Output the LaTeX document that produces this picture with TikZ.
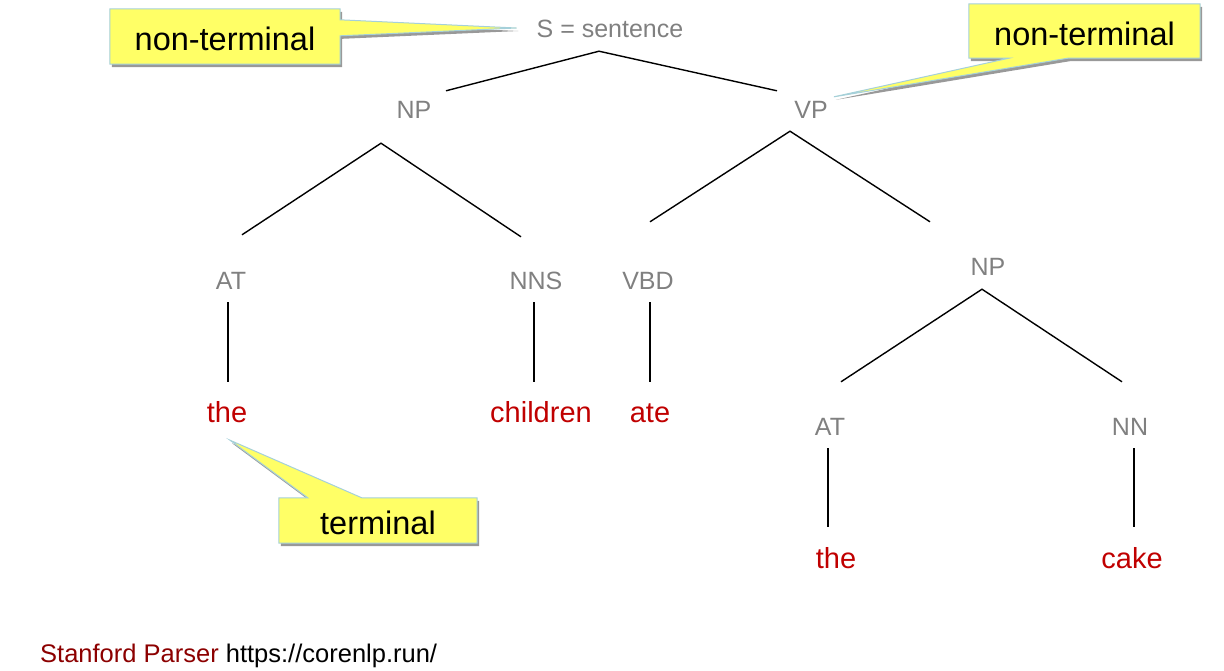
\documentclass[tikz,border=0pt]{standalone}
\usepackage{fontspec}
\setmainfont{Liberation Sans}
\usetikzlibrary{calc,shadows}

\definecolor{labelgray}{RGB}{128,128,128}
\definecolor{wordred}{RGB}{192,0,0}
\definecolor{sourcered}{RGB}{140,0,0}
\definecolor{noteyellow}{RGB}{255,255,102}
\definecolor{noterim}{RGB}{165,208,218}

\pgfdeclarelayer{background}
\pgfsetlayers{background,main}

\begin{document}
\begin{tikzpicture}[
  x=1pt, y=-1pt,
  cat/.style={anchor=base,inner sep=0pt,text height=18pt,text depth=0pt,
    text=labelgray,font=\fontsize{25}{30}\selectfont},
  word/.style={anchor=base,inner sep=0pt,text height=21pt,text depth=0pt,
    text=wordred,font=\fontsize{29}{34}\selectfont},
  note/.style={inner sep=0pt,text height=28pt,text depth=0pt,
    font=\fontsize{32.5}{38}\selectfont},
  notebox/.style={fill=noteyellow,draw=noterim,line width=1pt,
    drop shadow={shadow xshift=2pt,shadow yshift=-3pt,fill=black!40,opacity=1}},
  branch/.style={line width=1.4pt}
]
  \useasboundingbox (0,0) rectangle (1224,670);

  % tree labels
  \node[cat] (S) at (610,37) {S = sentence};
  \node[cat] (NP1) at (414,118) {NP};
  \node[cat] (VP) at (811,118) {VP};
  \node[cat] (AT1) at (231,289) {AT};
  \node[cat] (NNS) at (536,289) {NNS};
  \node[cat] (VBD) at (648,289) {VBD};
  \node[cat] (NP2) at (988,275) {NP};
  \node[cat] (AT2) at (830,435) {AT};
  \node[cat] (NN) at (1130,435) {NN};

  % words
  \node[word] (the1) at (227,422) {the};
  \node[word] (children) at (541,422) {children};
  \node[word] (ate) at (650,422) {ate};
  \node[word] (the2) at (836,568) {the};
  \node[word] (cake) at (1132,568) {cake};

  % branches
  \draw[branch] ($(NP1.north)+(32,-9)$) -- ($(S.south)+(-11,14)$) -- ($(VP.north)+(-34,-9)$);
  \draw[branch] ($(AT1.north)+(11,-36)$) -- ($(NP1.south)+(-33,25)$) -- ($(NNS.north)+(-15,-34)$);
  \draw[branch] ($(VBD.north)+(2,-49)$) -- ($(VP.south)+(-21,13)$) -- ($(NP2.north)+(-58,-35)$);
  \draw[branch] ($(AT2.north)+(11,-35)$) -- ($(NP2.south)+(-6,14)$) -- ($(NN.north)+(-8,-35)$);
  \draw[branch] ($(AT1.south)+(-3,13)$) -- ($(the1.north)+(1,-19)$);
  \draw[branch] ($(NNS.south)+(-2,13)$) -- ($(children.north)+(-7,-19)$);
  \draw[branch] ($(VBD.south)+(2,13)$) -- ($(ate.north)+(0,-19)$);
  \draw[branch] ($(AT2.south)+(-2,13)$) -- ($(the2.north)+(-8,-20)$);
  \draw[branch] ($(NN.south)+(4,13)$) -- ($(cake.north)+(2,-20)$);

  % callouts
  \node[note,minimum width=230pt,minimum height=55pt] (nt1) at (225,36.5) {non-terminal};
  \node[note,minimum width=231pt,minimum height=54pt] (nt2) at (1084.5,31) {non-terminal};
  \node[note,minimum width=198pt,minimum height=45pt] (term) at (378,520.5) {terminal};
  \begin{pgfonlayer}{background}
    \path[notebox] (nt1.north west) -- (nt1.north east) -- ($(nt1.north east)+(0,11)$)
      -- ($(S.west)+(-20,0)$) -- ($(nt1.north east)+(0,27)$) -- (nt1.south east)
      -- (nt1.south west) -- cycle;
    \path[notebox] (nt2.north west) -- (nt2.north east) -- (nt2.south east)
      -- ($(nt2.south west)+(99,0)$) -- ($(VP.north east)+(6,-3)$)
      -- ($(nt2.south west)+(40,0)$) -- (nt2.south west) -- cycle;
    \path[notebox] (term.north west) -- ($(term.north west)+(29,0)$)
      -- ($(the1.south)+(3,18)$) -- ($(term.north west)+(83,0)$)
      -- (term.north east) -- (term.south east) -- (term.south west) -- cycle;
  \end{pgfonlayer}

  % source
  \node[anchor=base west,inner sep=0pt,font=\fontsize{25.5}{30}\selectfont] (source) at (40,662)
    {\textcolor{sourcered}{Stanford Parser} https://corenlp.run/};
\end{tikzpicture}
\end{document}
